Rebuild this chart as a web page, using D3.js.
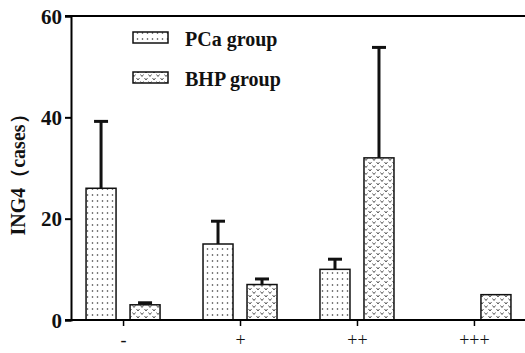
<!DOCTYPE html>
<html>
<head>
<meta charset="utf-8">
<script src="https://cdn.jsdelivr.net/npm/d3@7"></script>
<style>
  body { margin: 0; background: #fff; }
  svg { display: block; }
  text { font-family: "Liberation Serif", "Times New Roman", serif; }
</style>
</head>
<body>
<div id="chart"></div>
<script>
// data
const categories = ["-", "+", "++", "+++"];
const groups = ["PCa group", "BHP group"];
const pcaValues = [26, 15, 10, 0];
const pcaErrors = [13.2, 4.5, 2, 0];
const bhpValues = [3, 7, 32, 5];
const bhpErrors = [0.4, 1.1, 21.8, 0];
const yTicks = [0, 20, 40, 60];

const width = 525, height = 353;
const margin = { top: 16, right: 0, bottom: 33, left: 71 };
const serif = '"Liberation Serif", "Times New Roman", serif';

const svg = d3.select("#chart").append("svg")
    .attr("width", width)
    .attr("height", height);

// patterns
const defs = svg.append("defs");
const dots = defs.append("pattern")
    .attr("id", "dots")
    .attr("patternUnits", "userSpaceOnUse")
    .attr("width", 5).attr("height", 6);
dots.append("rect").attr("width", 5).attr("height", 6).attr("fill", "#fff");
dots.append("circle").attr("cx", 2.5).attr("cy", 3).attr("r", 0.8).attr("fill", "#333");

const hearts = defs.append("pattern")
    .attr("id", "hearts")
    .attr("patternUnits", "userSpaceOnUse")
    .attr("width", 8).attr("height", 7);
hearts.append("rect").attr("width", 8).attr("height", 7).attr("fill", "#fff");
hearts.append("path").attr("d", "M0.5,1 L2,3 L3.5,1").attr("fill", "none")
    .attr("stroke", "#444").attr("stroke-width", 0.9);
hearts.append("path").attr("d", "M4.5,4.5 L6,6.5 L7.5,4.5").attr("fill", "none")
    .attr("stroke", "#444").attr("stroke-width", 0.9);

const y = d3.scaleLinear()
    .domain([0, 60])
    .range([height - margin.bottom, margin.top]);

const x = d3.scalePoint()
    .domain(categories)
    .range([margin.left, 526])
    .padding(0.445);

const sub = d3.scalePoint()
    .domain(groups)
    .range([-22, 22]);
const barW = 30;

const series = [
    { name: groups[0], values: pcaValues, errors: pcaErrors, fill: "url(#dots)" },
    { name: groups[1], values: bhpValues, errors: bhpErrors, fill: "url(#hearts)" }
];

// y axis
const yAxis = svg.append("g")
    .attr("transform", `translate(${margin.left},0)`)
    .call(d3.axisLeft(y).tickValues(yTicks).tickSize(6).tickPadding(3));
yAxis.attr("font-family", null).attr("font-size", null);
yAxis.select(".domain").attr("stroke-width", 2);
yAxis.selectAll(".tick line").attr("stroke-width", 2);
yAxis.selectAll("text")
    .style("font-family", serif)
    .style("font-size", "21px")
    .style("font-weight", "bold")
    .attr("dy", "0.34em")
    .attr("fill", "#111");

// top border line
svg.append("line")
    .attr("x1", margin.left - 6).attr("x2", width)
    .attr("y1", y(60)).attr("y2", y(60))
    .attr("stroke", "#000").attr("stroke-width", 2);

// bars
series.forEach(s => {
    const g = svg.append("g");
    const data = categories.map((c, i) => ({ c: c, v: s.values[i], e: s.errors[i] }))
        .filter(d => d.v > 0);

    g.selectAll("rect")
        .data(data)
      .enter().append("rect")
        .attr("x", d => x(d.c) + sub(s.name) - barW / 2)
        .attr("y", d => y(d.v))
        .attr("width", barW)
        .attr("height", d => y(0) - y(d.v))
        .attr("fill", s.fill)
        .attr("stroke", "#111")
        .attr("stroke-width", 1.5);

    // upper error bars only
    const err = data.filter(d => d.e > 0);
    g.selectAll(".err")
        .data(err)
      .enter().append("line")
        .attr("class", "err")
        .attr("x1", d => x(d.c) + sub(s.name))
        .attr("x2", d => x(d.c) + sub(s.name))
        .attr("y1", d => y(d.v))
        .attr("y2", d => y(d.v + d.e))
        .attr("stroke", "#111")
        .attr("stroke-width", 3);
    g.selectAll(".cap")
        .data(err)
      .enter().append("line")
        .attr("class", "cap")
        .attr("x1", d => x(d.c) + sub(s.name) - 7)
        .attr("x2", d => x(d.c) + sub(s.name) + 7)
        .attr("y1", d => y(d.v + d.e))
        .attr("y2", d => y(d.v + d.e))
        .attr("stroke", "#111")
        .attr("stroke-width", 3);
});

// x axis
const xAxis = svg.append("g")
    .attr("transform", `translate(0,${y(0)})`)
    .call(d3.axisBottom(x).tickSize(6).tickPadding(7));
xAxis.attr("font-family", null).attr("font-size", null);
xAxis.select(".domain")
    .attr("d", `M${margin.left - 6},0H${width}`)
    .attr("stroke-width", 2);
xAxis.selectAll(".tick line").attr("stroke-width", 1.5);
xAxis.selectAll("text")
    .style("font-family", serif)
    .style("font-size", "18px")
    .attr("fill", "#111");

// y label
svg.append("text")
    .attr("transform", `translate(25,${(y(0) + y(60)) / 2 + 2}) rotate(-90)`)
    .attr("text-anchor", "middle")
    .style("font-size", "20px")
    .style("font-weight", "bold")
    .attr("fill", "#111")
    .text("ING4（cases）");

// legend
const legend = svg.append("g");
series.forEach((s, i) => {
    const ly = 32 + i * 40;
    legend.append("rect")
        .attr("x", 133).attr("y", ly)
        .attr("width", 35).attr("height", 11)
        .attr("fill", s.fill)
        .attr("stroke", "#111")
        .attr("stroke-width", 1.5);
    legend.append("text")
        .attr("x", 185).attr("y", ly + 14)
        .style("font-size", "20px")
        .style("font-weight", "bold")
        .attr("fill", "#111")
        .text(s.name);
});
</script>
</body>
</html>
